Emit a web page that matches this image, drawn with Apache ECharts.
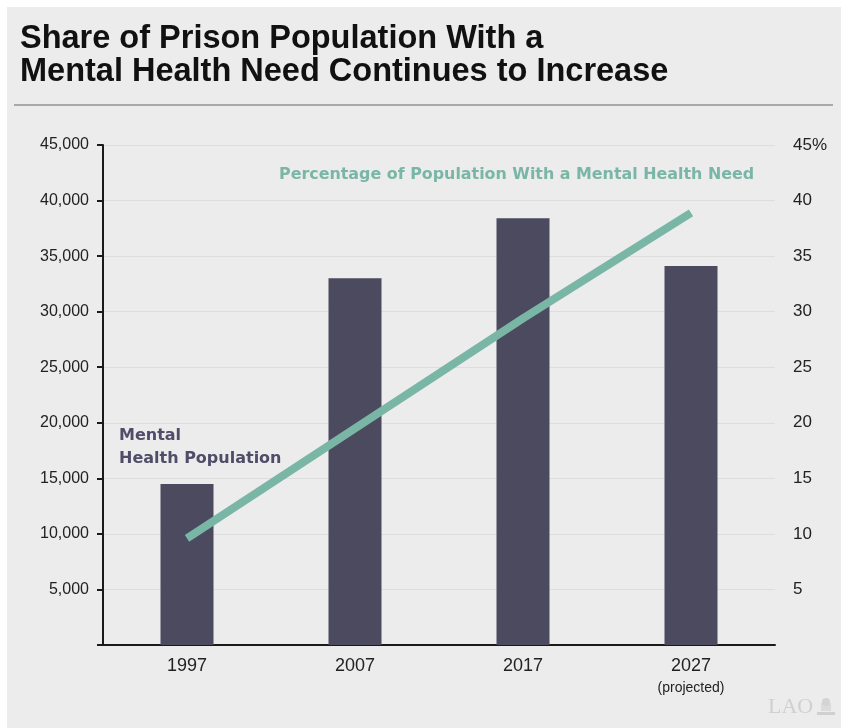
<!DOCTYPE html>
<html>
<head>
<meta charset="utf-8">
<script src="https://cdn.jsdelivr.net/npm/echarts@6/dist/echarts.min.js"></script>
<style>
html,body{margin:0;padding:0;background:#ffffff;}
#chart{width:841px;height:728px;}
</style>
</head>
<body>
<div id="chart"></div>
<script>
const categories = ['1997', '2007', '2017', '2027'];
const populationValues = [14500, 33000, 38400, 34100];
const percentValues = [9.6, 19.5, 29.4, 38.9];
const leftTicks = ['', '5,000', '10,000', '15,000', '20,000', '25,000', '30,000', '35,000', '40,000', '45,000'];
const rightTicks = ['', '5', '10', '15', '20', '25', '30', '35', '40', '45%'];

const FONT = '"Liberation Sans", Arial, Helvetica, sans-serif';
const BOLDFONT = '"DejaVu Sans", "Liberation Sans", Arial, sans-serif';
const chart = echarts.init(document.getElementById('chart'), null, {renderer: 'canvas'});

chart.setOption({
  backgroundColor: '#ffffff',
  animation: false,
  textStyle: {fontFamily: FONT},
  grid: {left: 103, right: 66, top: 145, bottom: 83, containLabel: false},
  graphic: [
    {type: 'rect', z: -10, shape: {x: 7, y: 7, width: 834, height: 721}, style: {fill: '#ebeceb'}},
    {type: 'text', x: 20, y: 39, style: {text: 'Share of Prison Population With a', font: 'bold 32.5px ' + FONT, fill: '#111111', verticalAlign: 'middle'}},
    {type: 'text', x: 20, y: 72, style: {text: 'Mental Health Need Continues to Increase', font: 'bold 32.5px ' + FONT, fill: '#111111', verticalAlign: 'middle'}},
    {type: 'line', shape: {x1: 14, y1: 105, x2: 833, y2: 105}, style: {stroke: '#a8a9a9', lineWidth: 2}},
    {type: 'text', x: 279, y: 175, z: 10, style: {text: 'Percentage of Population With a Mental Health Need', font: 'bold 15.9px ' + BOLDFONT, fill: '#7ab6a6', verticalAlign: 'middle'}},
    {type: 'text', x: 119, y: 436, z: 10, style: {text: 'Mental', font: 'bold 16px ' + BOLDFONT, fill: '#504d68', verticalAlign: 'middle'}},
    {type: 'text', x: 119, y: 459, z: 10, style: {text: 'Health Population', font: 'bold 16px ' + BOLDFONT, fill: '#504d68', verticalAlign: 'middle'}},
    {type: 'text', x: 768, y: 707, style: {text: 'LAO', font: '22px "Liberation Serif", "DejaVu Serif", serif', fill: '#cfd0cf', verticalAlign: 'middle'}},
    {type: 'rect', shape: {x: 817, y: 712, width: 18, height: 3}, style: {fill: '#cfd0cf'}},
    {type: 'rect', shape: {x: 821, y: 703, width: 10, height: 8}, style: {fill: '#dadbda'}},
    {type: 'circle', shape: {cx: 826, cy: 702, r: 4}, style: {fill: '#d3d4d3'}}
  ],
  xAxis: {
    type: 'category',
    data: categories,
    axisLine: {show: true, lineStyle: {color: '#1a1a1a', width: 2}},
    axisTick: {show: false},
    splitLine: {show: false},
    axisLabel: {
      margin: 10,
      color: '#222222',
      fontSize: 18,
      lineHeight: 22,
      fontFamily: FONT,
      formatter: function (v) { return v === '2027' ? v + '\n{p|(projected)}' : v; },
      rich: {p: {fontSize: 14, lineHeight: 22, color: '#222222', fontFamily: FONT}}
    }
  },
  yAxis: [
    {
      type: 'value', min: 0, max: 45000, interval: 5000, position: 'left',
      axisLine: {show: true, lineStyle: {color: '#1a1a1a', width: 2}},
      axisTick: {show: true, length: 6, lineStyle: {color: '#1a1a1a', width: 2}},
      splitLine: {show: true, lineStyle: {color: '#dcdddc', width: 1}},
      axisLabel: {
        margin: 14, color: '#222222', fontSize: 16, fontFamily: FONT,
        formatter: function (v) { return leftTicks[Math.round(v / 5000)]; }
      }
    },
    {
      type: 'value', min: 0, max: 45, interval: 5, position: 'right',
      axisLine: {show: false},
      axisTick: {show: false},
      splitLine: {show: false},
      axisLabel: {
        margin: 18, color: '#222222', fontSize: 17, fontFamily: FONT,
        formatter: function (v) { return rightTicks[Math.round(v / 5)]; }
      }
    }
  ],
  series: [
    {
      type: 'bar', data: populationValues, yAxisIndex: 0, barWidth: 53,
      itemStyle: {color: '#4b4a5f'}, z: 2
    },
    {
      type: 'line', data: percentValues, yAxisIndex: 1, symbol: 'none',
      lineStyle: {color: '#7ab6a6', width: 8, cap: 'butt'}, z: 3
    }
  ]
});
</script>
</body>
</html>
